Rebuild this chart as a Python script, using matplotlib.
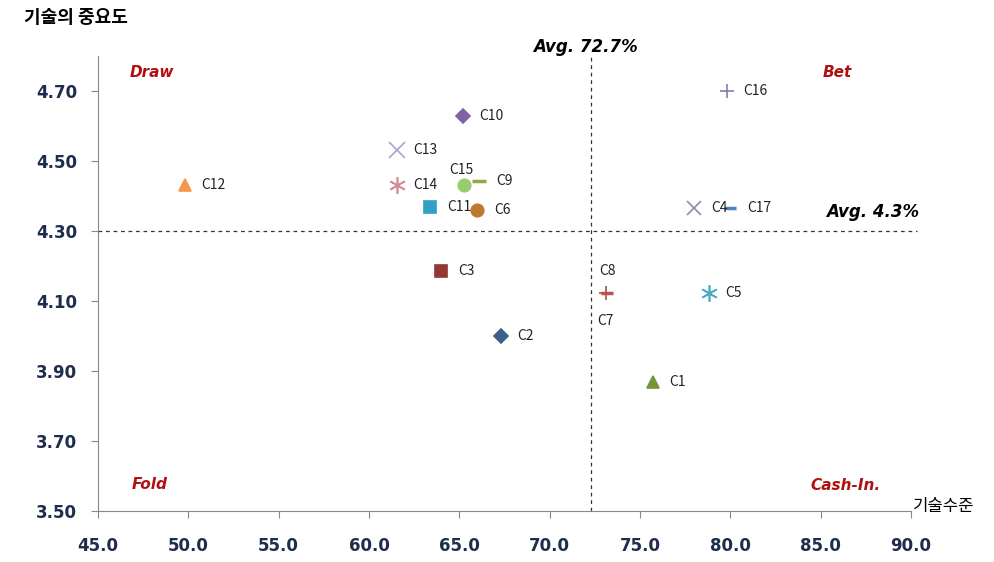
import matplotlib
matplotlib.use("Agg")
import matplotlib.pyplot as plt

# technology level (x), importance (y)
names = ["C1", "C2", "C3", "C4", "C5", "C6", "C7", "C8", "C9", "C10",
         "C11", "C12", "C13", "C14", "C15", "C16", "C17"]
tech_level = [75.7, 67.3, 64.0, 78.0, 78.8, 66.0, 73.1, 73.2, 66.1, 65.2,
              63.4, 49.8, 61.55, 61.55, 65.25, 79.8, 80.0]
importance = [3.87, 4.00, 4.186, 4.366, 4.123, 4.36, 4.123, 4.123, 4.443, 4.629,
              4.369, 4.431, 4.531, 4.431, 4.431, 4.70, 4.366]

star = (6, 2, 0)
markers = ["^", "D", "s", "x", star, "o", "+", "_", "_", "D",
           "s", "^", "x", star, "o", "+", "_"]
colors = ["#77933C", "#3E5F8A", "#953735", "#8C8CA8", "#4BACC6", "#C0782F",
          "#A0524F", "#C0504D", "#8FA84A", "#8064A2", "#31A0C6", "#F79646",
          "#A5A5D0", "#D08C90", "#9BCB6F", "#7F7FB0", "#4F81BD"]
sizes = [9, 7, 9, 10, 12, 9, 10, 8, 10, 7, 9, 9, 11, 12, 9, 10, 8]
# label offsets (points)
offsets = {"C7": (0, -20), "C8": (0, 16), "C15": (-2, 11)}

avg_x = 72.3
avg_y = 4.30

plt.rcParams["font.family"] = ["Noto Sans CJK KR", "DejaVu Sans"]

fig = plt.figure(figsize=(9.95, 5.62), dpi=100)
ax = fig.add_axes([0.0985, 0.0907, 0.817, 0.8097])

for n, x, y, m, c, s in zip(names, tech_level, importance, markers, colors, sizes):
    mew = 2.5 if m == "_" else 1.2
    ax.plot(x, y, marker=m, color=c, markersize=s, markeredgewidth=mew,
            linestyle="none", clip_on=False)
    dx, dy = offsets.get(n, (12, 0))
    ha = "left" if n not in offsets else "center"
    ax.annotate(n, (x, y), xytext=(dx, dy), textcoords="offset points",
                ha=ha, va="center", fontsize=10, color="#222222")

ax.axvline(avg_x, color="#333333", linestyle=(0, (3, 3)), linewidth=0.9)
ax.axhline(avg_y, color="#333333", linestyle=(0, (3, 3)), linewidth=0.9,
           xmax=1.008, clip_on=False)

ax.set_xlim(45, 90)
ax.set_ylim(3.5, 4.8)
ax.set_xticks([45 + 5 * i for i in range(10)])
ax.set_yticks([3.5 + 0.2 * i for i in range(7)])
ax.set_xticklabels([f"{45 + 5 * i:.1f}" for i in range(10)])
ax.set_yticklabels([f"{3.5 + 0.2 * i:.2f}" for i in range(7)])
for lab in ax.get_xticklabels() + ax.get_yticklabels():
    lab.set_fontweight("bold")
    lab.set_color("#1F2D4D")
    lab.set_fontsize(12)
    lab.set_family("DejaVu Sans")
ax.tick_params(axis="x", length=5, color="#888888", pad=14)
ax.tick_params(axis="y", length=5, color="#888888", pad=10)
for side in ("top", "right"):
    ax.spines[side].set_visible(False)
for side in ("left", "bottom"):
    ax.spines[side].set_color("#888888")

quad = dict(color="#B01010", fontsize=11, fontweight="bold", style="italic",
            transform=ax.transAxes, ha="center", va="center", family="DejaVu Sans")
ax.text(0.066, 0.963, "Draw", **quad)
ax.text(0.910, 0.963, "Bet", **quad)
ax.text(0.064, 0.059, "Fold", **quad)
ax.text(0.919, 0.055, "Cash-In.", **quad)

ax.text(avg_x - 0.3, 4.826, "Avg. 72.7%", fontsize=12, fontweight="bold",
        style="italic", ha="center", va="center", family="DejaVu Sans")
ax.text(87.9, 4.355, "Avg. 4.3%", fontsize=12, fontweight="bold",
        style="italic", ha="center", va="center", family="DejaVu Sans")

fig.text(0.024, 0.968, "기술의 중요도", fontsize=13, fontweight="bold",
         ha="left", va="center")
fig.text(0.918, 0.098, "기술수준", fontsize=12, ha="left", va="center")

fig.savefig("out.png", dpi=100)
